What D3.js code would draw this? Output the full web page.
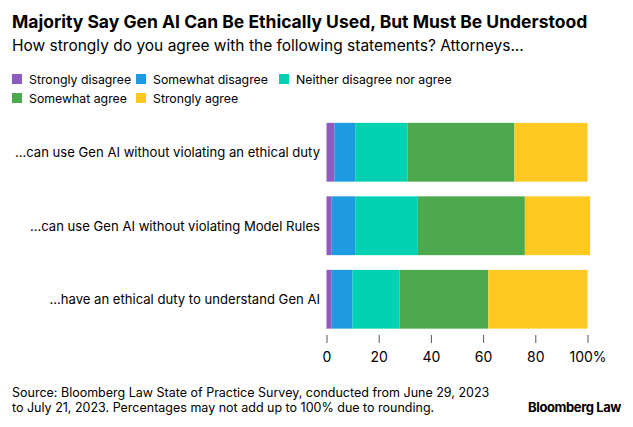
<!DOCTYPE html><html><head><meta charset="utf-8"><script src="https://cdn.jsdelivr.net/npm/d3@7"></script>
<style>body{margin:0;background:#fff;font-family:Inter,"Noto Sans",sans-serif}</style></head><body><svg width="633" height="427"></svg>
<script>
const categories=["...can use Gen AI without violating an ethical duty","...can use Gen AI without violating Model Rules","...have an ethical duty to understand Gen AI"];
const seriesNames=["Strongly disagree","Somewhat disagree","Neither disagree nor agree","Somewhat agree","Strongly agree"];
const stronglyDisagree=[3,2,2];
const somewhatDisagree=[8,9,8];
const neither=[20,24,18];
const somewhatAgree=[41,41,34];
const stronglyAgree=[28,25,38];
const tickValues=[0,20,40,60,80,100];
const colors=["#8e5bbf","#1e9be0","#00d1b2","#4ca94e","#fdc922"];
const values=[stronglyDisagree,somewhatDisagree,neither,somewhatAgree,stronglyAgree];
const rows=categories.map((c,i)=>{const o={cat:c};seriesNames.forEach((s,j)=>o[s]=values[j][i]);return o;});
const svg=d3.select("svg");
svg.append("text").attr("x",12).attr("y",28).attr("font-size",17.5).attr("font-weight",700).attr("fill","#000").text("Majority Say Gen AI Can Be Ethically Used, But Must Be Understood");
svg.append("text").attr("x",12).attr("y",51).attr("font-size",15.5).attr("fill","#000").text("How strongly do you agree with the following statements? Attorneys...");
const leg=[[0,12,84],[1,136,84],[2,279,84],[3,12,103],[4,136,103]];
leg.forEach(([j,x,y])=>{svg.append("rect").attr("x",x).attr("y",y-10).attr("width",10).attr("height",10).attr("fill",colors[j]);
svg.append("text").attr("x",x+17).attr("y",y).attr("font-size",12.3).attr("fill","#000").text(seriesNames[j]);});
const x=d3.scaleLinear().domain([0,100]).range([326.5,587.5]);
const y=d3.scaleBand().domain(categories).range([115.5,336]).paddingInner(0.2).paddingOuter(0.1);
const stack=d3.stack().keys(seriesNames)(rows);
stack.forEach((s,j)=>svg.append("g").selectAll("rect").data(s).join("rect").attr("x",d=>x(d[0])).attr("width",d=>x(d[1])-x(d[0])).attr("y",d=>y(d.data.cat)).attr("height",y.bandwidth()).attr("fill",colors[j]));
svg.selectAll(".cl").data(categories).join("text").attr("x",320).attr("y",d=>y(d)+y.bandwidth()/2+5).attr("text-anchor","end").attr("font-size",13.1).attr("fill","#000").text(d=>d);
const ax=svg.append("g").attr("transform","translate(0,335)").call(d3.axisBottom(x).tickValues(tickValues).tickSize(8).tickPadding(9).tickFormat(d=>d===100?"100%":d));
ax.select(".domain").remove();ax.selectAll("line").attr("stroke","#555");ax.selectAll("text").attr("font-size",14).attr("fill","#000").attr("font-family","Inter,sans-serif");
svg.append("text").attr("x",12).attr("y",397).attr("font-size",12.5).attr("fill","#000").text("Source: Bloomberg Law State of Practice Survey, conducted from June 29, 2023");
svg.append("text").attr("x",12).attr("y",412).attr("font-size",12.5).attr("fill","#000").text("to July 21, 2023. Percentages may not add up to 100% due to rounding.");
svg.append("text").attr("x",621).attr("y",412).attr("text-anchor","end").attr("font-size",13).attr("font-weight",700).attr("letter-spacing",-0.4).attr("fill","#000").text("Bloomberg Law");
</script></body></html>
